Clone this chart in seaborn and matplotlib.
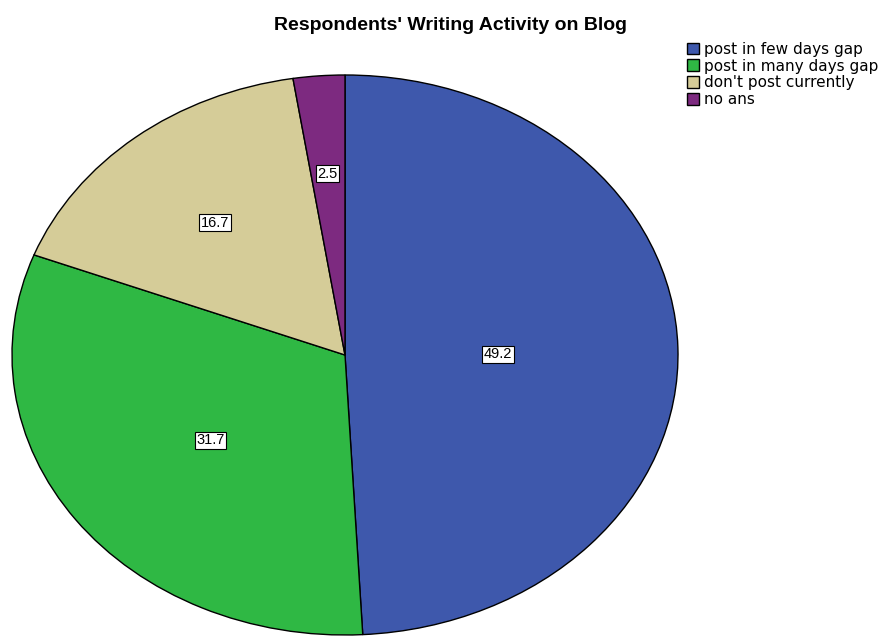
import numpy as np
import matplotlib
matplotlib.use('Agg')
import matplotlib.pyplot as plt
import seaborn as sns

# ── Datos ─────────────────────────────────────────────────────────────────────

categories = ['post in few days gap', 'post in many days gap',
              "don't post currently", 'no ans']
percent    = [49.2, 31.7, 16.7, 2.5]
colors     = ['#3e58ac', '#2fb844', '#d5cc98', '#7d2a80']
label_r    = [0.46, 0.50, 0.62, 0.66]   # distancia radial de cada etiqueta

sns.set_theme(style='white')
plt.rcParams['font.family'] = ['Liberation Sans', 'DejaVu Sans']
plt.rcParams['text.color'] = 'black'

fig = plt.figure(figsize=(8.82, 6.37), dpi=100)
ax = fig.add_axes([12 / 882, 2 / 637, 666 / 882, 560 / 637])

wedges, _ = ax.pie(percent, colors=colors, startangle=90, counterclock=False,
                   wedgeprops=dict(edgecolor='black', linewidth=1.0))
ax.set_aspect('auto')
ax.set_xlim(-1, 1)
ax.set_ylim(-1, 1)
ax.axis('off')

for w, val, r in zip(wedges, percent, label_r):
    ang = np.deg2rad((w.theta1 + w.theta2) / 2)
    ax.text(r * np.cos(ang), r * np.sin(ang) - 0.01, f'{val:.1f}',
            ha='center', va='center', fontsize=10.5, color='black',
            bbox=dict(boxstyle='square,pad=0.1', fc='white', ec='black', lw=0.8))

fig.text(450 / 882, 1 - 26 / 637, "Respondents' Writing Activity on Blog",
         ha='center', va='center', fontsize=14, fontweight='heavy', color='black')

leg = fig.legend(wedges, categories, loc='upper left',
                 bbox_to_anchor=(676 / 882, 1 - 31 / 637),
                 frameon=False, fontsize=11, handlelength=0.8, handleheight=0.8,
                 handletextpad=0.3, labelspacing=0.12, borderpad=0.2)
for t in leg.get_texts():
    t.set_family('DejaVu Sans')
    t.set_color('black')

fig.savefig('out.png', dpi=100)
